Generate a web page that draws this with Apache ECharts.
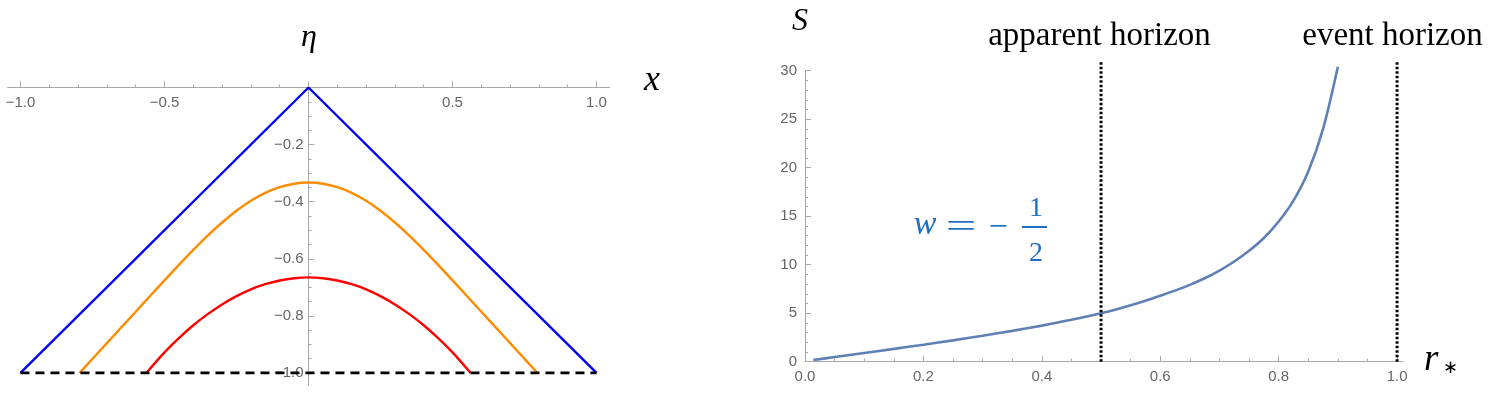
<!DOCTYPE html>
<html>
<head>
<meta charset="utf-8">
<script src="https://cdn.jsdelivr.net/npm/echarts@6/dist/echarts.min.js"></script>
<style>
html, body { margin: 0; padding: 0; background: #fff; }
#chart { width: 1499px; height: 395px; }
</style>
</head>
<body>
<div id="chart"></div>
<script>
// left panel: light cone and two curves, eta vs x
var blueX = [-1, 0, 1];
var blueEta = [-1, 0, -1];

var orangeX = [-0.795, -0.75, -0.7, -0.65, -0.6, -0.55, -0.5, -0.45, -0.4, -0.35, -0.3, -0.25, -0.2, -0.15, -0.1, -0.05,
    0, 0.05, 0.1, 0.15, 0.2, 0.25, 0.3, 0.35, 0.4, 0.45, 0.5, 0.55, 0.6, 0.65, 0.7, 0.75, 0.795];
var orangeEta = [-1.0, -0.9505, -0.8955, -0.8405, -0.7855, -0.7305, -0.6755, -0.6215, -0.569, -0.519, -0.473, -0.432, -0.397, -0.369, -0.349, -0.337,
    -0.333, -0.337, -0.349, -0.369, -0.397, -0.432, -0.473, -0.519, -0.569, -0.6215, -0.6755, -0.7305, -0.7855, -0.8405, -0.8955, -0.9505, -1.0];

var redX = [-0.563, -0.5, -0.45, -0.4, -0.35, -0.3, -0.25, -0.2, -0.15, -0.1, -0.05,
    0, 0.05, 0.1, 0.15, 0.2, 0.25, 0.3, 0.35, 0.4, 0.45, 0.5, 0.563];
var redEta = [-1.0, -0.928, -0.878, -0.833, -0.794, -0.76, -0.731, -0.707, -0.689, -0.676, -0.668,
    -0.665, -0.668, -0.676, -0.689, -0.707, -0.731, -0.76, -0.794, -0.833, -0.878, -0.928, -1.0];

var baseX = [-1, 1];
var baseEta = [-1, -1];

// right panel: S vs r*
var rStar = [0.014, 0.05, 0.1, 0.15, 0.2, 0.25, 0.3, 0.35, 0.4, 0.45, 0.5,
    0.525, 0.55, 0.575, 0.6, 0.625, 0.65, 0.675, 0.7, 0.725, 0.75, 0.775, 0.8, 0.825, 0.85, 0.875, 0.9];
var entropyS = [0.17, 0.48, 0.9, 1.32, 1.75, 2.2, 2.68, 3.18, 3.72, 4.32, 5.0,
    5.39, 5.82, 6.29, 6.8, 7.33, 7.92, 8.6, 9.4, 10.33, 11.43, 12.75, 14.45, 16.6, 19.6, 24.0, 30.4];

var apparentX = [0.5, 0.5];
var eventX = [1, 1];
var horizonS = [0, 30.9];

// ticks
var leftXMajor = [-1, -0.5, 0, 0.5, 1];
var leftXLabels = [-1, -0.5, 0.5, 1];
var leftYMajor = [-1, -0.8, -0.6, -0.4, -0.2];
var rightXMajor = [0, 0.2, 0.4, 0.6, 0.8, 1.0];
var rightYMajor = [0, 5, 10, 15, 20, 25, 30];

function steps(a, b, d) {
    var out = [];
    var n = Math.round((b - a) / d);
    for (var i = 0; i <= n; i++) out.push(+(a + i * d).toFixed(4));
    return out;
}
var leftXMinor = steps(-1, 1, 0.1);
var leftYMinor = steps(-1, 0, 0.05);
var rightXMinor = steps(0, 1, 0.05);
var rightYMinor = steps(0, 30, 1);

function zip(xs, ys) {
    return xs.map(function (x, i) { return [x, ys[i]]; });
}

var axisGray = '#a8a8a8';
var labelGray = '#666666';
var serif = '"Liberation Serif", "Times New Roman", serif';
var noteBlue = '#1f6ec4';

function signed(v) {
    if (Math.abs(v) < 1e-9) return '';
    return (v < 0 ? '\u2212' : '') + Math.abs(v).toFixed(1);
}

function axis(o) {
    return {
        type: 'value',
        gridIndex: o.grid,
        min: o.min,
        max: o.max,
        position: o.position,
        axisLine: { show: !o.minor, onZero: false, lineStyle: { color: axisGray, width: 1 } },
        axisTick: {
            show: true,
            inside: o.tickInside,
            length: o.minor ? 3 : 6,
            customValues: o.ticks,
            lineStyle: { color: axisGray, width: 1 }
        },
        axisLabel: {
            show: !o.minor,
            inside: o.labelInside || false,
            margin: o.margin || 8,
            customValues: o.labels,
            formatter: o.fmt,
            color: labelGray,
            fontSize: 15,
            fontFamily: '"Liberation Sans", Arial, sans-serif'
        },
        splitLine: { show: false }
    };
}

// axis that only carries the scale, draws nothing
function hidden(grid, min, max) {
    return { type: 'value', gridIndex: grid, min: min, max: max, show: false, splitLine: { show: false } };
}

function gridAt(g) {
    return Object.assign({ containLabel: false, outerBoundsMode: 'none' }, g);
}

// left plot box: x in [-1.045, 1.045], eta in [-1.045, 0]; the eta axis sits at x = 0
var leftGrid = { left: 7.5, top: 87.5, width: 602, height: 298.3 };
var leftYGrid = { left: 308.5, top: 87.5, width: 301, height: 298.3 };
var rightGrid = { left: 805, top: 70.7, width: 598, height: 291 };

var chart = echarts.init(document.getElementById('chart'), null, { renderer: 'canvas' });

var option = {
    animation: false,
    backgroundColor: '#ffffff',
    grid: [
        gridAt(leftGrid), gridAt(leftGrid),
        gridAt(leftYGrid), gridAt(leftYGrid),
        gridAt(rightGrid), gridAt(rightGrid)
    ],
    xAxis: [
        axis({ grid: 0, min: -1.045, max: 1.045, position: 'top', tickInside: false,
            labelInside: true, margin: 8, ticks: leftXMajor, labels: leftXLabels, fmt: signed }),
        axis({ grid: 1, min: -1.045, max: 1.045, position: 'top', tickInside: false,
            minor: true, ticks: leftXMinor }),
        hidden(2, 0, 1.045),
        hidden(3, 0, 1.045),
        axis({ grid: 4, min: 0, max: 1.01, position: 'bottom', tickInside: true,
            margin: 8, ticks: rightXMajor, labels: rightXMajor, fmt: function (v) { return v.toFixed(1); } }),
        axis({ grid: 5, min: 0, max: 1.01, position: 'bottom', tickInside: true,
            minor: true, ticks: rightXMinor })
    ],
    yAxis: [
        hidden(0, -1.045, 0),
        hidden(1, -1.045, 0),
        axis({ grid: 2, min: -1.045, max: 0, position: 'left', tickInside: true,
            margin: 5, ticks: leftYMajor, labels: leftYMajor, fmt: signed }),
        axis({ grid: 3, min: -1.045, max: 0, position: 'left', tickInside: true,
            minor: true, ticks: leftYMinor }),
        axis({ grid: 4, min: 0, max: 30, position: 'left', tickInside: true,
            margin: 8, ticks: rightYMajor, labels: rightYMajor, fmt: function (v) { return String(v); } }),
        axis({ grid: 5, min: 0, max: 30, position: 'left', tickInside: true,
            minor: true, ticks: rightYMinor })
    ],
    series: [
        {
            type: 'line', xAxisIndex: 0, yAxisIndex: 0, data: zip(blueX, blueEta),
            symbol: 'none', silent: true, lineStyle: { color: '#0000ff', width: 2.4 }
        },
        {
            type: 'line', xAxisIndex: 0, yAxisIndex: 0, data: zip(orangeX, orangeEta),
            symbol: 'none', silent: true, smooth: 0.25, lineStyle: { color: '#ff8c00', width: 2.4 }
        },
        {
            type: 'line', xAxisIndex: 0, yAxisIndex: 0, data: zip(redX, redEta),
            symbol: 'none', silent: true, smooth: 0.25, lineStyle: { color: '#ff0000', width: 2.4 }
        },
        {
            type: 'line', xAxisIndex: 0, yAxisIndex: 0, data: zip(baseX, baseEta), z: 4,
            symbol: 'none', silent: true, lineStyle: { color: '#000000', width: 2.7, type: [9, 6] }
        },
        {
            type: 'line', xAxisIndex: 4, yAxisIndex: 4, data: zip(rStar, entropyS), clip: false,
            symbol: 'none', silent: true, smooth: 0.3,
            lineStyle: { color: '#5e81b5', width: 2.6 }
        },
        {
            type: 'line', xAxisIndex: 4, yAxisIndex: 4, data: zip(apparentX, horizonS), clip: false,
            symbol: 'none', silent: true, lineStyle: { color: '#000000', width: 3, type: [2.5, 2] }
        },
        {
            type: 'line', xAxisIndex: 4, yAxisIndex: 4, data: zip(eventX, horizonS), clip: false,
            symbol: 'none', silent: true, lineStyle: { color: '#000000', width: 3, type: [2.5, 2] }
        }
    ],
    graphic: [
        { type: 'text', x: 309, y: 38, style: { text: 'η', font: 'italic 32px ' + serif, fill: '#000', align: 'center', verticalAlign: 'middle' } },
        { type: 'text', x: 652, y: 81, style: { text: 'x', font: 'italic 36px ' + serif, fill: '#000', align: 'center', verticalAlign: 'middle' } },
        { type: 'text', x: 800, y: 22, style: { text: 'S', font: 'italic 32px ' + serif, fill: '#000', align: 'center', verticalAlign: 'middle' } },
        { type: 'text', x: 1099.5, y: 36, style: { text: 'apparent horizon', font: '33px ' + serif, fill: '#000', align: 'center', verticalAlign: 'middle' } },
        { type: 'text', x: 1392.5, y: 36, style: { text: 'event horizon', font: '33px ' + serif, fill: '#000', align: 'center', verticalAlign: 'middle' } },
        { type: 'text', x: 1424, y: 360, style: { text: 'r', font: 'italic 37px ' + serif, fill: '#000', align: 'left', verticalAlign: 'middle' } },
        { type: 'text', x: 1443, y: 368, style: { text: '∗', font: '18px ' + serif, fill: '#000', align: 'left', verticalAlign: 'middle' } },
        // w = -1/2 annotation
        { type: 'text', x: 925, y: 225, style: { text: 'w', font: 'italic 34px ' + serif, fill: noteBlue, align: 'center', verticalAlign: 'middle' } },
        { type: 'text', x: 961, y: 228, scaleX: 1.6, style: { text: '=', font: '34px ' + serif, fill: noteBlue, align: 'center', verticalAlign: 'middle' } },
        { type: 'text', x: 998, y: 228, style: { text: '\u2212', font: '34px ' + serif, fill: noteBlue, align: 'center', verticalAlign: 'middle' } },
        { type: 'line', shape: { x1: 1022, y1: 227, x2: 1047, y2: 227 }, style: { stroke: noteBlue, lineWidth: 2 } },
        { type: 'text', x: 1036, y: 209, style: { text: '1', font: '28px ' + serif, fill: noteBlue, align: 'center', verticalAlign: 'middle' } },
        { type: 'text', x: 1036, y: 254, style: { text: '2', font: '28px ' + serif, fill: noteBlue, align: 'center', verticalAlign: 'middle' } }
    ]
};

chart.setOption(option);
</script>
</body>
</html>
